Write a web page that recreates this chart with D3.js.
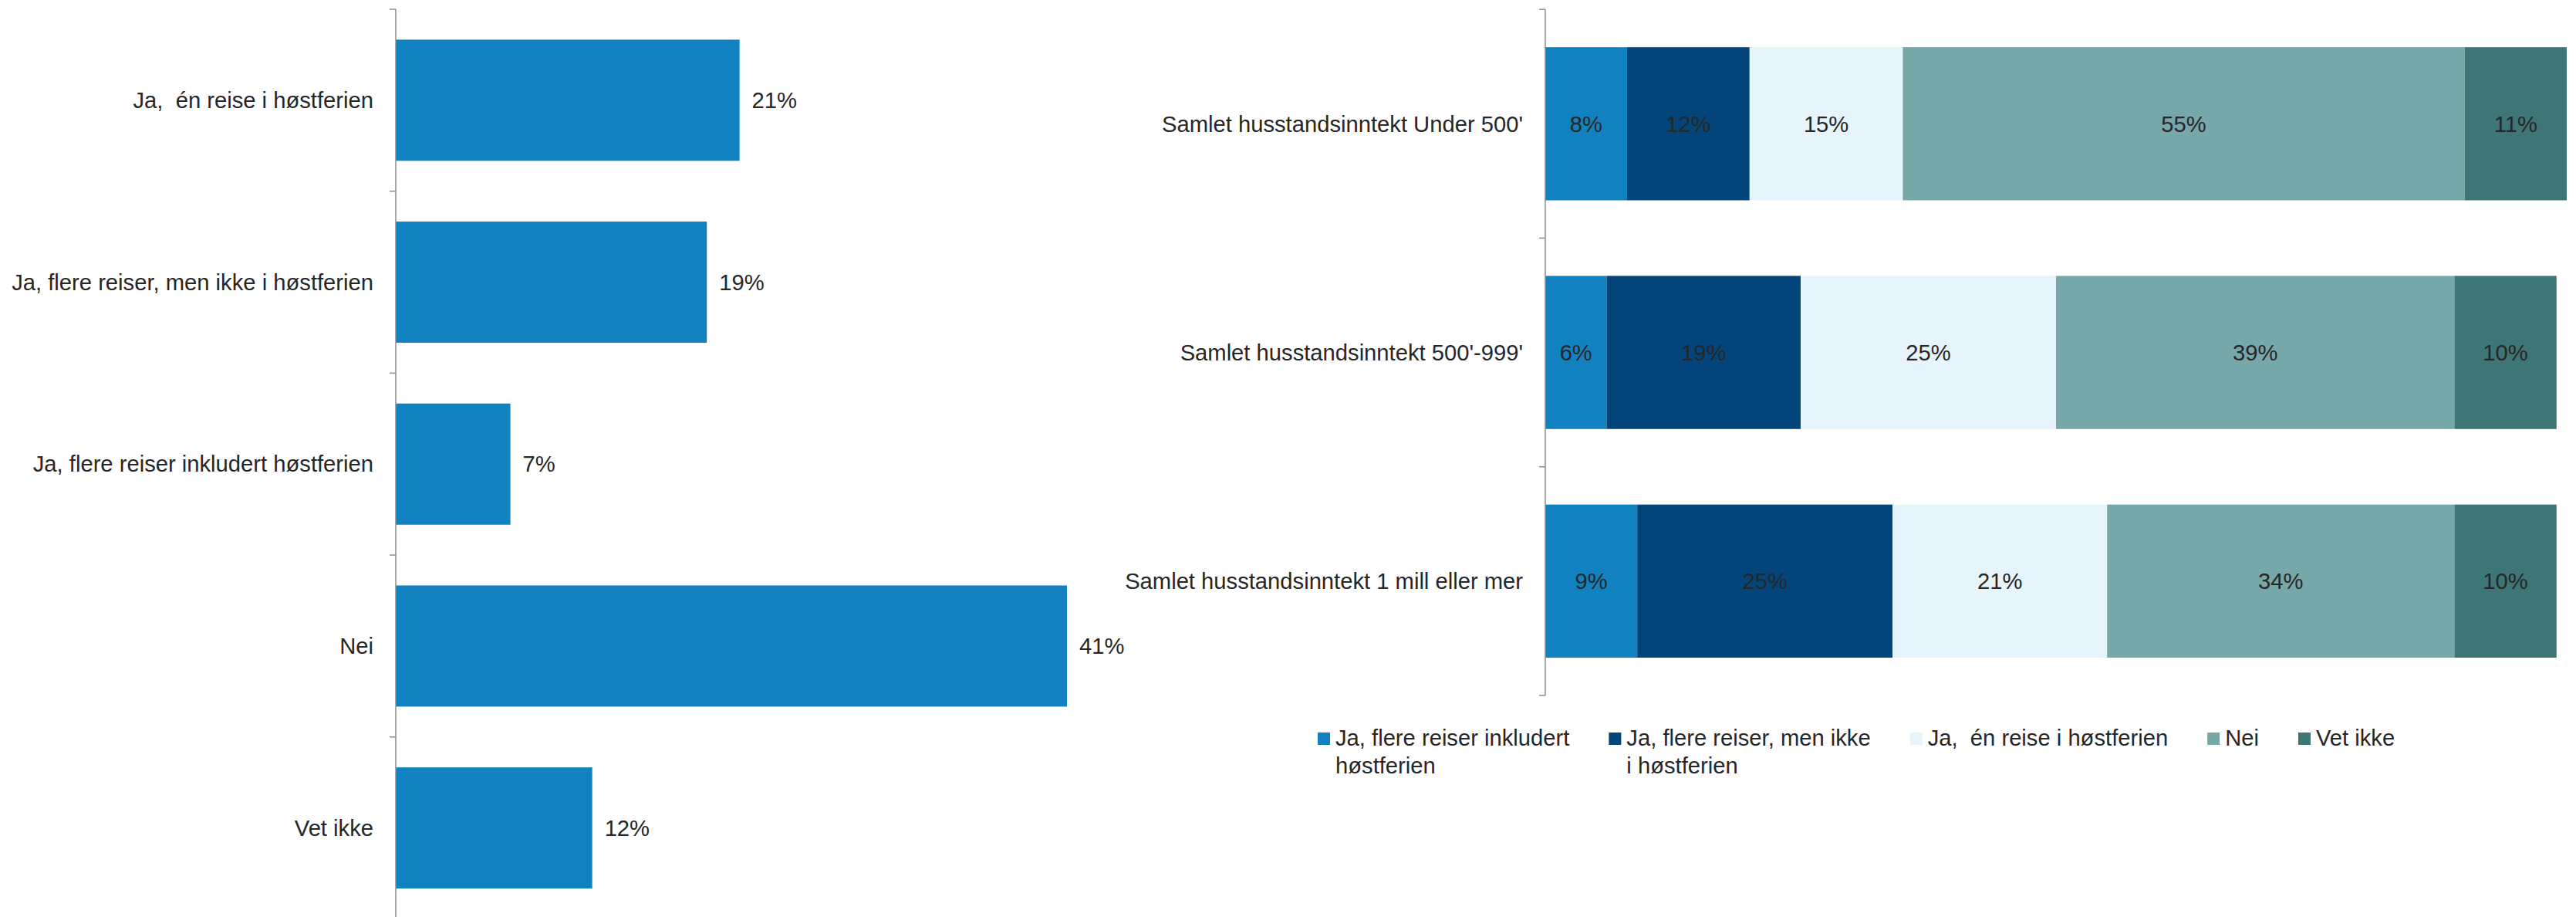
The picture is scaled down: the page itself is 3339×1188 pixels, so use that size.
<!DOCTYPE html>
<html>
<head>
<meta charset="utf-8">
<script src="https://cdn.jsdelivr.net/npm/d3@7"></script>
<style>
  html, body { margin: 0; padding: 0; background: #ffffff; }
  svg { display: block; }
  text { font-family: "Liberation Sans", Arial, sans-serif; fill: #262626; white-space: pre; }
</style>
</head>
<body>
<svg id="chart" width="3339" height="1188"></svg>
<script>
// ---------- DATA ----------
const leftCategories = [
  "Ja,  én reise i høstferien",
  "Ja, flere reiser, men ikke i høstferien",
  "Ja, flere reiser inkludert høstferien",
  "Nei",
  "Vet ikke"
];
const leftValues = [21, 19, 7, 41, 12];

const groups = [
  "Samlet husstandsinntekt Under 500'",
  "Samlet husstandsinntekt 500'-999'",
  "Samlet husstandsinntekt 1 mill eller mer"
];
const seriesNames = [
  "Ja, flere reiser inkludert høstferien",
  "Ja, flere reiser, men ikke i høstferien",
  "Ja,  én reise i høstferien",
  "Nei",
  "Vet ikke"
];
const seriesFlereInkl = [8, 6, 9];
const seriesFlereIkke = [12, 19, 25];
const seriesEnReise   = [15, 25, 21];
const seriesNei       = [55, 39, 34];
const seriesVetIkke   = [11, 10, 10];
const seriesColors = ["#1182bf", "#03457a", "#e6f4fc", "#77a8a9", "#3e7676"];

// ---------- SETUP ----------
const svg = d3.select("#chart");
const FONT = 29.2;
const axisColor = "#8c8c8c";

// ---------- LEFT CHART ----------
const lx = d3.scaleLinear().domain([0, 100]).range([513, 2635]);
const ly = d3.scaleBand().domain(leftCategories).range([12, 1190.5])
  .paddingInner(0.334).paddingOuter(0.167);

const left = svg.append("g");
left.selectAll("rect.bar").data(leftCategories).join("rect")
  .attr("class", "bar")
  .attr("x", lx(0))
  .attr("y", d => ly(d))
  .attr("width", (d, i) => lx(leftValues[i]) - lx(0))
  .attr("height", ly.bandwidth())
  .attr("fill", "#1182bf");

left.selectAll("text.val").data(leftCategories).join("text")
  .attr("class", "val")
  .attr("x", (d, i) => lx(leftValues[i]) + 16)
  .attr("y", d => ly(d) + ly.bandwidth() / 2)
  .attr("dy", "0.35em")
  .attr("font-size", FONT)
  .text((d, i) => leftValues[i] + "%");

// axis
const leftAxis = left.append("g").attr("transform", `translate(${lx(0)},0)`);
leftAxis.append("line").attr("x1", 0).attr("x2", 0).attr("y1", 12).attr("y2", 1188)
  .attr("stroke", axisColor).attr("stroke-width", 1.5);
const leftTickPos = leftCategories.map(d => ly(d) - ly.step() * ly.paddingInner() / 2);
leftAxis.selectAll("line.tick").data(leftTickPos).join("line")
  .attr("class", "tick").attr("x1", -8).attr("x2", 0)
  .attr("y1", d => d).attr("y2", d => d)
  .attr("stroke", axisColor).attr("stroke-width", 1.5);
left.selectAll("text.cat").data(leftCategories).join("text")
  .attr("class", "cat")
  .attr("x", lx(0) - 29)
  .attr("y", d => ly(d) + ly.bandwidth() / 2)
  .attr("dy", "0.35em")
  .attr("text-anchor", "end")
  .attr("font-size", FONT)
  .text(d => d);

// ---------- RIGHT CHART ----------
const rows = groups.map((g, i) => ({
  group: g,
  s0: seriesFlereInkl[i], s1: seriesFlereIkke[i], s2: seriesEnReise[i],
  s3: seriesNei[i], s4: seriesVetIkke[i]
}));
const keys = ["s0", "s1", "s2", "s3", "s4"];
const stacked = d3.stack().keys(keys)(rows);

const rx = d3.scaleLinear().domain([0, 100]).range([2003, 3327]).clamp(true);
const ry = d3.scaleBand().domain(groups).range([12.2, 901])
  .paddingInner(0.3305).paddingOuter(0.16525);

const right = svg.append("g");
const layers = right.selectAll("g.layer").data(stacked).join("g")
  .attr("class", "layer")
  .attr("fill", (d, i) => seriesColors[i]);
layers.selectAll("rect").data(d => d).join("rect")
  .attr("x", d => rx(d[0]))
  .attr("y", d => ry(d.data.group))
  .attr("width", d => rx(d[1]) - rx(d[0]))
  .attr("height", ry.bandwidth());
layers.selectAll("text").data(d => d).join("text")
  .attr("x", d => (rx(d[0]) + rx(d[1])) / 2)
  .attr("y", d => ry(d.data.group) + ry.bandwidth() / 2)
  .attr("dy", "0.35em")
  .attr("text-anchor", "middle")
  .attr("font-size", FONT)
  .text(d => (d[1] - d[0]) + "%");

const rightAxis = right.append("g").attr("transform", `translate(${rx(0)},0)`);
rightAxis.append("line").attr("x1", 0).attr("x2", 0).attr("y1", 12.2).attr("y2", 901)
  .attr("stroke", axisColor).attr("stroke-width", 1.5);
const rightTickPos = groups.map(d => ry(d) - ry.step() * ry.paddingInner() / 2).concat([901]);
rightAxis.selectAll("line.tick").data(rightTickPos).join("line")
  .attr("class", "tick").attr("x1", -8).attr("x2", 0)
  .attr("y1", d => d).attr("y2", d => d)
  .attr("stroke", axisColor).attr("stroke-width", 1.5);
right.selectAll("text.cat").data(groups).join("text")
  .attr("class", "cat")
  .attr("x", rx(0) - 29)
  .attr("y", d => ry(d) + ry.bandwidth() / 2)
  .attr("dy", "0.35em")
  .attr("text-anchor", "end")
  .attr("font-size", FONT)
  .text(d => d);

// ---------- LEGEND ----------
const legend = svg.append("g");
const wrapWidth = 322;
let cursorX = 1708;
seriesNames.forEach((name, i) => {
  const item = legend.append("g").attr("transform", `translate(${cursorX},0)`);
  item.append("rect").attr("x", 0).attr("y", 949).attr("width", 16).attr("height", 16)
    .attr("fill", seriesColors[i]);
  const t = item.append("text").attr("x", 23).attr("y", 966).attr("font-size", FONT);
  const words = name.split(" ");
  let line = [];
  let lineNo = 0;
  let tspan = t.append("tspan").attr("x", 23).attr("y", 966);
  for (let w = 0; w < words.length; w++) {
    line.push(words[w]);
    tspan.text(line.join(" "));
    if (tspan.node().getComputedTextLength() > wrapWidth && line.length > 1) {
      line.pop();
      tspan.text(line.join(" "));
      line = [words[w]];
      lineNo++;
      tspan = t.append("tspan").attr("x", 23).attr("y", 966 + lineNo * 36).text(words[w]);
    }
  }
  const bw = t.node().getBBox().width;
  cursorX += 23 + bw + 51;
});
</script>
</body>
</html>
